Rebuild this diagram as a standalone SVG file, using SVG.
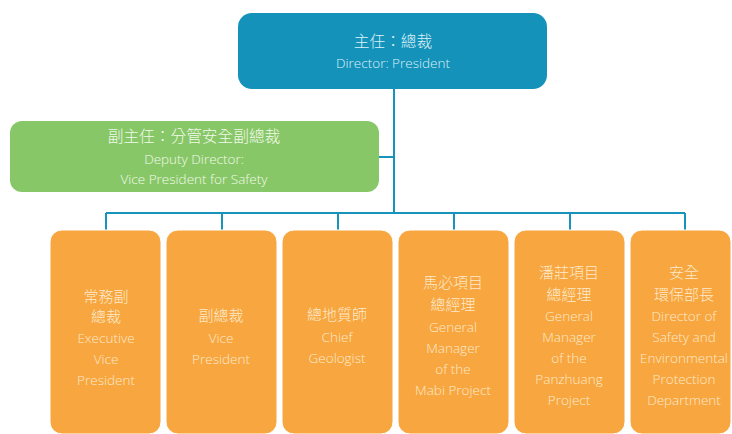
<svg xmlns="http://www.w3.org/2000/svg" width="732" height="434" viewBox="0 0 732 434">
<style>
text{font-family:"Open Sans","Noto Sans CJK TC","Liberation Sans",sans-serif;font-weight:300;font-size:13.5px;text-anchor:middle}
.cjk{font-family:"Noto Sans CJK TC","Noto Sans",sans-serif;font-size:15px}
.big{font-size:15.7px}
.top rect{fill:#1492b9}
.top text{fill:#dcf1f8}
.dep rect{fill:#88c767}
.dep text{fill:#f1faea}
.role rect{fill:#f7a640;stroke:#ffffff;stroke-width:1}
.role text{fill:#feeacb}
.conn{fill:none;stroke:#1893bb;stroke-width:2}
</style>
<g id="connectors" class="conn">
<path d="M394 89V213M379 157H394M106 213H685M106 213V230M222 213V230M338 213V230M454 213V230M570 213V230M685 213V230"/>
</g>
<g id="director" class="top">
<rect x="238" y="13" width="309" height="76" rx="14"/>
<text x="393" y="47" class="cjk big">主任：總裁</text>
<text x="393" y="68">Director: President</text>
</g>
<g id="deputy" class="dep">
<rect x="10" y="121" width="369" height="71" rx="12"/>
<text x="194" y="142" class="cjk big">副主任：分管安全副總裁</text>
<text x="194" y="164">Deputy Director:</text>
<text x="194" y="184">Vice President for Safety</text>
</g>
<g id="evp" class="role">
<rect x="50" y="230" width="111" height="204" rx="12"/>
<text x="106" y="302" class="cjk">常務副</text>
<text x="106" y="322" class="cjk">總裁</text>
<text x="106" y="343">Executive</text>
<text x="106" y="364">Vice</text>
<text x="106" y="385">President</text>
</g>
<g id="vp" class="role">
<rect x="166" y="230" width="111" height="204" rx="12"/>
<text x="221" y="321" class="cjk">副總裁</text>
<text x="221" y="343">Vice</text>
<text x="221" y="364">President</text>
</g>
<g id="geologist" class="role">
<rect x="282" y="230" width="111" height="204" rx="12"/>
<text x="337" y="320" class="cjk">總地質師</text>
<text x="337" y="342">Chief</text>
<text x="337" y="363">Geologist</text>
</g>
<g id="mabi" class="role">
<rect x="398" y="230" width="111" height="204" rx="12"/>
<text x="453" y="288" class="cjk">馬必項目</text>
<text x="453" y="310" class="cjk">總經理</text>
<text x="453" y="332">General</text>
<text x="453" y="353">Manager</text>
<text x="453" y="374">of the</text>
<text x="453" y="395">Mabi Project</text>
</g>
<g id="panzhuang" class="role">
<rect x="514" y="230" width="111" height="204" rx="12"/>
<text x="569" y="278" class="cjk">潘莊項目</text>
<text x="569" y="300" class="cjk">總經理</text>
<text x="569" y="321">General</text>
<text x="569" y="342">Manager</text>
<text x="569" y="363">of the</text>
<text x="569" y="384">Panzhuang</text>
<text x="569" y="405">Project</text>
</g>
<g id="safety" class="role">
<rect x="630" y="230" width="101" height="204" rx="12"/>
<text x="684" y="278" class="cjk">安全</text>
<text x="684" y="300" class="cjk">環保部長</text>
<text x="684" y="321">Director of</text>
<text x="684" y="342">Safety and</text>
<text x="684" y="363">Environmental</text>
<text x="684" y="384">Protection</text>
<text x="684" y="405">Department</text>
</g>
</svg>
